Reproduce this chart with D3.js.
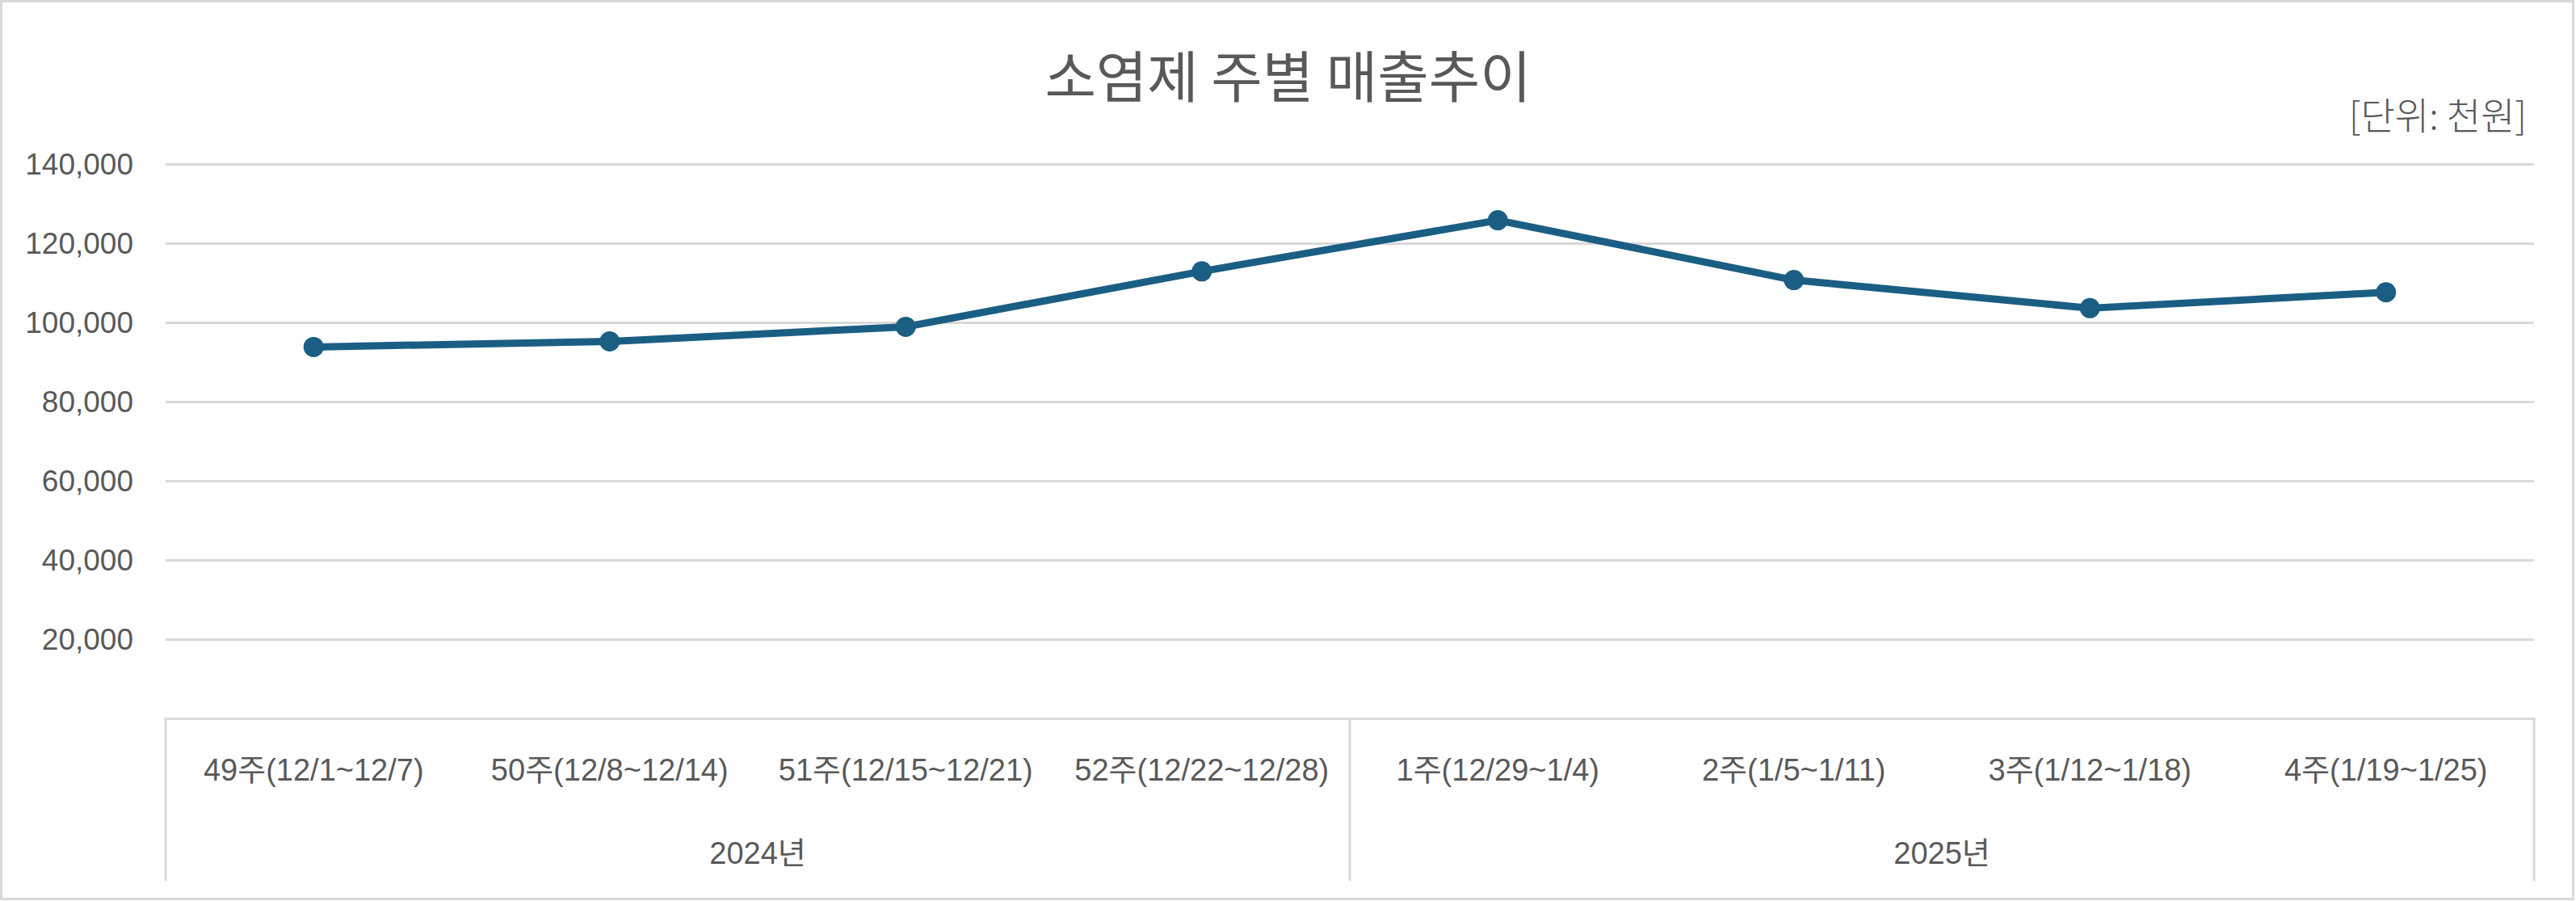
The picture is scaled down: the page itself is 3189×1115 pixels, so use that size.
<!DOCTYPE html>
<html>
<head>
<meta charset="utf-8">
<script src="https://cdn.jsdelivr.net/npm/d3@7"></script>
<style>
  html, body { margin: 0; padding: 0; background: #fff; }
  svg { display: block; }
  text { font-family: "Liberation Sans", Arial, "Noto Sans CJK KR", sans-serif; fill: #595959; }
</style>
</head>
<body>
<svg id="chart"></svg>
<script>
const categories = [
  '49주(12/1~12/7)', '50주(12/8~12/14)', '51주(12/15~12/21)', '52주(12/22~12/28)',
  '1주(12/29~1/4)', '2주(1/5~1/11)', '3주(1/12~1/18)', '4주(1/19~1/25)'
];
const sales = [93900, 95300, 99000, 113000, 125900, 110800, 103700, 107700];
const years = ['2024년', '2025년'];
const yearSpan = [4, 4];
const yTicks = [20000, 40000, 60000, 80000, 100000, 120000, 140000];

function drawChart() {
  const W = 3189, H = 1115;
  const LINE = '#1b5e83', GRID = '#d9d9d9';

  const svg = d3.select('#chart').attr('width', W).attr('height', H);

  // outer border
  svg.append('rect')
    .attr('x', 1.5).attr('y', 1.5)
    .attr('width', W - 5).attr('height', H - 4)
    .attr('fill', 'none').attr('stroke', GRID).attr('stroke-width', 3);

  const plotLeft = 205, plotRight = 3137, plotTop = 203.5, plotBottom = 889.5, boxBottom = 1090;

  const x = d3.scaleBand().domain(categories).range([plotLeft, plotRight]);
  const y = d3.scaleLinear().domain([0, 140000]).range([plotBottom, plotTop]);
  const cx = d => x(d) + x.bandwidth() / 2;

  // title + unit
  svg.append('text')
    .attr('x', W / 2).attr('y', 121)
    .attr('text-anchor', 'middle')
    .style('font-family', '"Noto Sans CJK KR", sans-serif')
    .style('font-size', '69px')
    .text('소염제 주별 매출추이');

  svg.append('text')
    .attr('x', 3128).attr('y', 160)
    .attr('text-anchor', 'end')
    .style('font-family', '"Noto Sans CJK KR", sans-serif')
    .style('font-size', '46px')
    .style('font-weight', 300)
    .text('[단위: 천원]');

  // gridlines
  svg.append('g')
    .selectAll('line')
    .data(yTicks)
    .enter().append('line')
    .attr('x1', plotLeft).attr('x2', plotRight)
    .attr('y1', d => y(d)).attr('y2', d => y(d))
    .attr('stroke', GRID).attr('stroke-width', 3);

  // y axis labels
  const yAxis = svg.append('g')
    .attr('transform', `translate(${plotLeft},0)`)
    .call(d3.axisLeft(y).tickValues(yTicks).tickFormat(d3.format(',')).tickSize(0).tickPadding(40));
  yAxis.select('.domain').remove();
  yAxis.selectAll('text')
    .style('font-size', '37px')
    .attr('fill', '#595959');

  // category axis box
  svg.append('line')
    .attr('x1', plotLeft - 1.5).attr('x2', plotRight + 1.5)
    .attr('y1', plotBottom).attr('y2', plotBottom)
    .attr('stroke', GRID).attr('stroke-width', 3);

  const xAxis = svg.append('g')
    .attr('transform', `translate(0,${plotBottom})`)
    .call(d3.axisBottom(x).tickSize(0).tickPadding(50));
  xAxis.select('.domain').remove();
  xAxis.selectAll('text')
    .style('font-size', '38px')
    .attr('fill', '#595959');

  // year groups
  let start = 0;
  const groups = years.map((yr, i) => {
    const g = { label: yr, x0: x(categories[start]), x1: x(categories[start + yearSpan[i] - 1]) + x.bandwidth() };
    start += yearSpan[i];
    return g;
  });

  const edges = [groups[0].x0].concat(groups.map(g => g.x1));
  svg.append('g')
    .selectAll('line')
    .data(edges)
    .enter().append('line')
    .attr('x1', d => d).attr('x2', d => d)
    .attr('y1', plotBottom).attr('y2', boxBottom)
    .attr('stroke', GRID).attr('stroke-width', 3);

  svg.append('g')
    .selectAll('text')
    .data(groups)
    .enter().append('text')
    .attr('x', d => (d.x0 + d.x1) / 2)
    .attr('y', 1069)
    .attr('text-anchor', 'middle')
    .style('font-size', '38px')
    .text(d => d.label);

  // line + markers
  const data = categories.map((c, i) => ({ c, v: sales[i] }));

  svg.append('path')
    .datum(data)
    .attr('fill', 'none')
    .attr('stroke', LINE)
    .attr('stroke-width', 9)
    .attr('stroke-linejoin', 'round')
    .attr('d', d3.line().x(d => cx(d.c)).y(d => y(d.v)));

  svg.append('g')
    .selectAll('circle')
    .data(data)
    .enter().append('circle')
    .attr('cx', d => cx(d.c))
    .attr('cy', d => y(d.v))
    .attr('r', 12.5)
    .attr('fill', LINE);
}

drawChart();
</script>
</body>
</html>
